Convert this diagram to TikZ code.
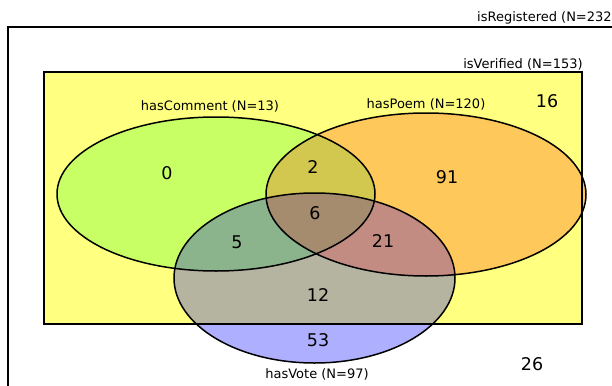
\documentclass[tikz,border=0pt]{standalone}
\usepackage{fontspec}
\setmainfont{DejaVu Sans}

\definecolor{verifiedfill}{HTML}{FFFF80}
\definecolor{commentfill}{HTML}{C8FF64}
\definecolor{poemfill}{HTML}{FFC85A}
\definecolor{votefill}{HTML}{AFAFFF}
\definecolor{votevfill}{HTML}{B4B4A0}
\definecolor{cpfill}{HTML}{D2C850}
\definecolor{cvfill}{HTML}{8CB48C}
\definecolor{pvfill}{HTML}{C38C82}
\definecolor{cpvfill}{HTML}{A58C6E}

\def\commentset{(216,194) ellipse [x radius=159, y radius=77]}
\def\poemset{(426,194.5) ellipse [x radius=160, y radius=81.5]}
\def\voteset{(314.5,278) ellipse [x radius=140.5, y radius=85]}

\begin{document}
\begin{tikzpicture}[x=1pt, y=-1pt,
  setname/.style={inner sep=0pt, font=\fontsize{13}{16}\selectfont},
  count/.style={inner sep=0pt, font=\fontsize{17.5}{21}\selectfont}]
  \useasboundingbox (0,0) rectangle (612,385);
  % regions
  \fill[verifiedfill] (44,72) rectangle (582,324);
  \fill[commentfill] \commentset;
  \fill[poemfill] \poemset;
  \begin{scope}
    \clip \commentset;
    \fill[cpfill] \poemset;
  \end{scope}
  \fill[votefill] \voteset;
  \begin{scope}
    \clip (44,72) rectangle (582,324);
    \fill[votevfill] \voteset;
  \end{scope}
  \begin{scope}
    \clip \voteset;
    \fill[cvfill] \commentset;
    \fill[pvfill] \poemset;
    \clip \commentset;
    \fill[cpvfill] \poemset;
  \end{scope}
  % outlines
  \draw[line width=1.8pt] (8,27) rectangle (640,420);
  \draw[line width=1.6pt] (44,72) rectangle (582,324);
  \draw[line width=1.5pt] \commentset;
  \draw[line width=1.5pt] \poemset;
  \draw[line width=1.5pt] \voteset;
  % set names
  \node[setname, anchor=west] (registered) at (477,17.5) {isRegistered (N=232)};
  \node[setname] (verified) at (523,64) {isVerified (N=153)};
  \node[setname] (comment) at (210,106) {hasComment (N=13)};
  \node[setname] (poem) at (426,104) {hasPoem (N=120)};
  \node[setname] (vote) at (317,374) {hasVote (N=97)};
  % counts
  \node[count] (n16) at (547,101) {16};
  \node[count] (n26) at (532,364) {26};
  \node[count] (n0) at (167,173) {0};
  \node[count] (n2) at (313,167) {2};
  \node[count] (n91) at (447,177) {91};
  \node[count] (n6) at (315,213) {6};
  \node[count] (n5) at (237,242) {5};
  \node[count] (n21) at (383,241) {21};
  \node[count] (n12) at (318,295) {12};
  \node[count] (n53) at (318,340) {53};
\end{tikzpicture}
\end{document}
